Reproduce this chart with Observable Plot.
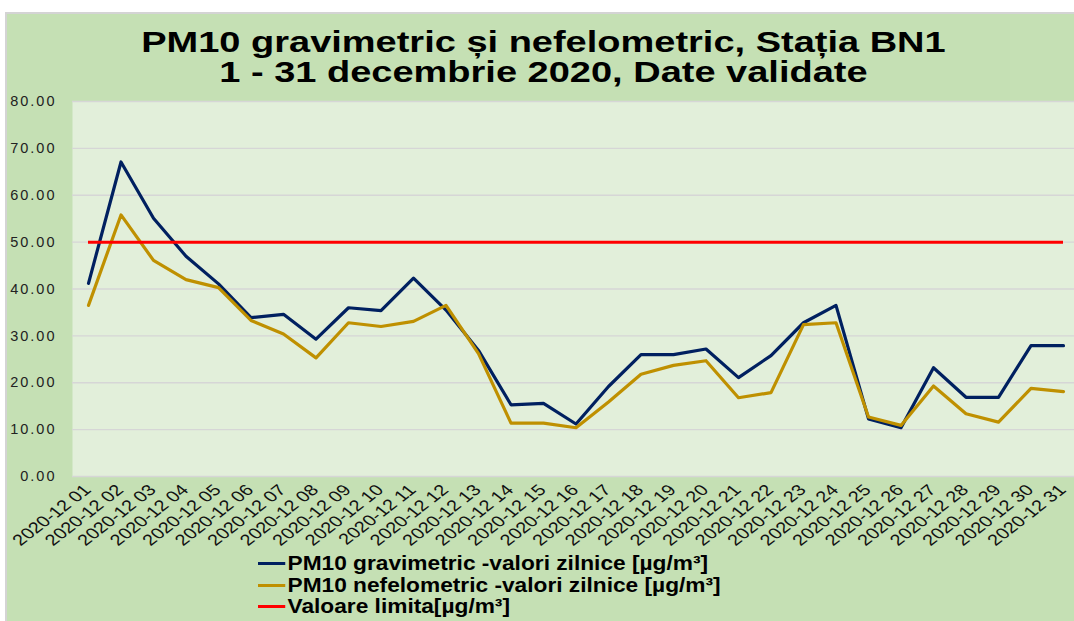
<!DOCTYPE html>
<html><head><meta charset="utf-8">
<script src="https://cdn.jsdelivr.net/npm/d3@7"></script>
<script src="https://cdn.jsdelivr.net/npm/@observablehq/plot@0.6"></script>
<style>
body{margin:0;background:#fff;font-family:"Liberation Sans",Arial,sans-serif;}
#wrap{position:relative;width:1074px;height:621px;overflow:hidden;}
#bg{position:absolute;left:5px;top:12px;right:0;bottom:0;background:#c5e0b4;border-left:2px solid #d4d4d4;border-top:2px solid #d4d4d4;}
#title{position:absolute;left:5px;width:1080px;top:27px;text-align:center;font-weight:bold;font-size:29px;line-height:30px;color:#000;transform:scaleX(1.31);transform-origin:545px 0;}
#title div{white-space:nowrap;}
#chart{position:absolute;left:0;top:0;}
#legend{position:absolute;left:258px;top:553px;font-weight:bold;font-size:20px;color:#000;transform:scaleX(1.135);transform-origin:0 0;}
.row{display:flex;align-items:center;height:21.5px;white-space:nowrap;}
.sw{width:24px;height:3px;margin-right:2px;}
</style>
</head><body>
<div id="wrap">
  <div id="bg"></div>
  <div id="title"></div>
  <div id="chart"></div>
  <div id="legend"></div>
</div>
<script>
const titleLines = ["PM10 gravimetric și nefelometric, Stația BN1", "1 - 31 decembrie 2020, Date validate"];
const days = ["2020-12 01","2020-12 02","2020-12 03","2020-12 04","2020-12 05","2020-12 06","2020-12 07","2020-12 08","2020-12 09","2020-12 10","2020-12 11","2020-12 12","2020-12 13","2020-12 14","2020-12 15","2020-12 16","2020-12 17","2020-12 18","2020-12 19","2020-12 20","2020-12 21","2020-12 22","2020-12 23","2020-12 24","2020-12 25","2020-12 26","2020-12 27","2020-12 28","2020-12 29","2020-12 30","2020-12 31"];
const gravimetric = [41.2,67.1,55.1,47.0,41.1,33.9,34.6,29.3,36.0,35.4,42.3,35.5,26.9,15.3,15.6,11.2,19.2,26.0,26.0,27.2,21.1,25.8,32.8,36.5,12.3,10.4,23.2,16.9,16.9,27.9,27.9];
const nefelometric = [36.5,55.8,46.1,42.0,40.3,33.3,30.4,25.3,32.8,32.0,33.1,36.5,26.2,11.4,11.4,10.4,15.9,21.8,23.7,24.7,16.8,17.9,32.4,32.8,12.7,10.9,19.3,13.4,11.6,18.8,18.1];
const limitValue = 50;
const yTicks = [0,10,20,30,40,50,60,70,80];
const seriesNames = ["PM10 gravimetric -valori zilnice [µg/m³]", "PM10 nefelometric -valori zilnice [µg/m³]", "Valoare limita[µg/m³]"];
const seriesColors = ["#002060", "#bf9000", "#ff0000"];

const t = d3.select("#title");
titleLines.forEach(l => t.append("div").text(l));

const gData = days.map((d, i) => ({day: d, value: gravimetric[i]}));
const nData = days.map((d, i) => ({day: d, value: nefelometric[i]}));

const chart = Plot.plot({
  width: 1074,
  height: 540,
  marginLeft: 72,
  marginRight: 0,
  marginTop: 101,
  marginBottom: 64,
  style: {background: "transparent", fontFamily: "'Liberation Sans', Arial, sans-serif", overflow: "visible"},
  x: {type: "point", domain: days, range: [88, 1063], padding: 0, round: false, label: null},
  y: {domain: [0, 80], label: null},
  marks: [
    Plot.frame({fill: "#e2efda", stroke: null}),
    Plot.ruleY(yTicks, {stroke: "#d6d6d6", strokeWidth: 1.3}),
    Plot.axisY({ticks: yTicks, tickFormat: d3.format(".2f"), tickSize: 0, tickPadding: 16, fontSize: 14.5, fill: "#222", label: null}),
    Plot.axisX({tickRotate: -45, tickSize: 0, tickPadding: 11, dx: -1, fontSize: 15.5, fill: "#111", label: null}),
    Plot.line(gData, {x: "day", y: "value", stroke: seriesColors[0], strokeWidth: 3.2}),
    Plot.line(nData, {x: "day", y: "value", stroke: seriesColors[1], strokeWidth: 3.2}),
    Plot.ruleY([limitValue], {x1: () => days[0], x2: () => days[days.length - 1], stroke: seriesColors[2], strokeWidth: 3})
  ]
});
document.getElementById("chart").appendChild(chart);
d3.select(chart).selectAll("g[aria-label='y-axis tick label'] text").style("letter-spacing", "2px");
d3.select(chart).selectAll("g[aria-label='x-axis tick label'] text").each(function() {
  const el = d3.select(this);
  const tr = el.attr("transform") || "";
  el.attr("transform", tr.replace(/rotate\(([-\d.]+)\)/, "scale(1.29,1) rotate($1)"));
});

const leg = d3.select("#legend");
seriesNames.forEach((n, i) => {
  const r = leg.append("div").attr("class", "row");
  r.append("div").attr("class", "sw").style("background", seriesColors[i]);
  r.append("span").text(n);
});
</script>
</body></html>
